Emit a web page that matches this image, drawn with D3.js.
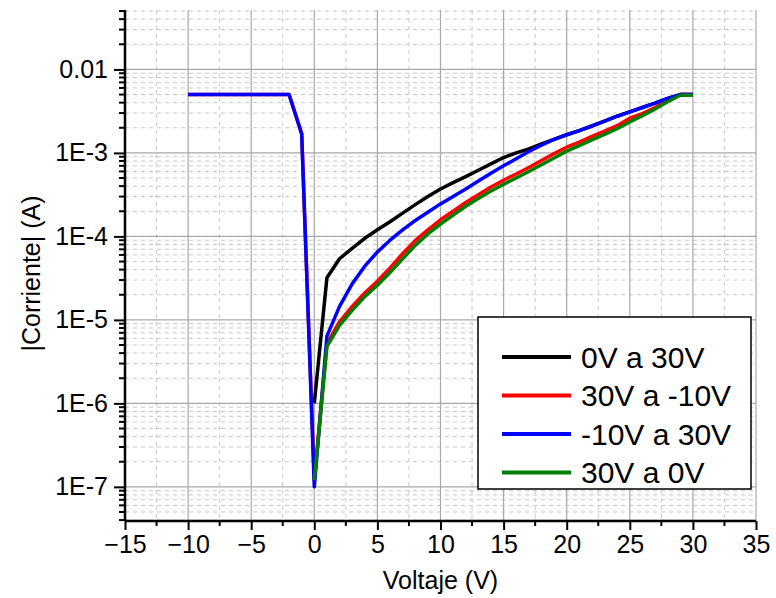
<!DOCTYPE html>
<html>
<head>
<meta charset="utf-8">
<script src="https://cdn.jsdelivr.net/npm/d3@7"></script>
<style>
  body { margin: 0; background: #fff; }
  svg { font-family: "Liberation Sans", Arial, sans-serif; }
</style>
</head>
<body>
<div id="chart"></div>
<script>
// voltage steps (V) and measured |I| (A) for each sweep
const voltsUp = d3.range(0, 31);
const voltsNeg = d3.range(-10, 31);
const voltsDownNeg = d3.range(30, -11, -1);
const voltsDown = d3.range(30, -1, -1);

const current0to30 = [1e-6, 3.2e-5, 5.4e-5, 7.2e-5, 9.5e-5, 1.2e-4, 1.5e-4, 1.9e-4, 2.4e-4, 3.0e-4,
  3.7e-4, 4.4e-4, 5.2e-4, 6.2e-4, 7.4e-4, 8.8e-4, 1.0e-3, 1.12e-3, 1.28e-3, 1.45e-3,
  1.65e-3, 1.85e-3, 2.1e-3, 2.4e-3, 2.75e-3, 3.1e-3, 3.5e-3, 3.95e-3, 4.5e-3, 5e-3, 5e-3];

const currentNeg10to30 = [5e-3, 5e-3, 5e-3, 5e-3, 5e-3, 5e-3, 5e-3, 5e-3, 5e-3, 1.7e-3,
  1e-7, 6.4e-6, 1.45e-5, 2.7e-5, 4.4e-5, 6.5e-5, 9.0e-5, 1.2e-4, 1.55e-4, 1.95e-4,
  2.45e-4, 3.0e-4, 3.7e-4, 4.6e-4, 5.7e-4, 7.0e-4, 8.5e-4, 1.04e-3, 1.24e-3, 1.45e-3,
  1.65e-3, 1.85e-3, 2.1e-3, 2.4e-3, 2.75e-3, 3.1e-3, 3.5e-3, 3.95e-3, 4.5e-3, 5e-3, 5e-3];

const current30toNeg10 = [5e-3, 5e-3, 4.25e-3, 3.5e-3, 2.95e-3, 2.6e-3, 2.12e-3, 1.82e-3, 1.58e-3, 1.35e-3,
  1.17e-3, 9.8e-4, 8.1e-4, 6.7e-4, 5.6e-4, 4.7e-4, 3.9e-4, 3.15e-4, 2.55e-4, 2.0e-4,
  1.58e-4, 1.2e-4, 8.9e-5, 6.2e-5, 4.2e-5, 2.9e-5, 2.1e-5, 1.45e-5, 9.5e-6, 5.2e-6,
  1.2e-7, 1.7e-3, 5e-3, 5e-3, 5e-3, 5e-3, 5e-3, 5e-3, 5e-3, 5e-3, 5e-3];

const current30to0 = [4.9e-3, 4.9e-3, 4.1e-3, 3.35e-3, 2.8e-3, 2.35e-3, 1.95e-3, 1.67e-3, 1.43e-3, 1.22e-3,
  1.05e-3, 8.7e-4, 7.2e-4, 6.0e-4, 5.0e-4, 4.2e-4, 3.5e-4, 2.85e-4, 2.3e-4, 1.8e-4,
  1.4e-4, 1.07e-4, 7.8e-5, 5.4e-5, 3.7e-5, 2.6e-5, 1.9e-5, 1.3e-5, 8.6e-6, 4.8e-6, 1.2e-7];

const seriesNames = ["0V a 30V", "30V a -10V", "-10V a 30V", "30V a 0V"];
const seriesColours = ["#000000", "#ff0000", "#0000ff", "#007f00"];

const xTicks = [-15, -10, -5, 0, 5, 10, 15, 20, 25, 30, 35];
const yTicks = [1e-7, 1e-6, 1e-5, 1e-4, 1e-3, 1e-2];
const yTickLabels = ["1E-7", "1E-6", "1E-5", "1E-4", "1E-3", "0.01"];

const series = [
  { name: seriesNames[0], colour: seriesColours[0], points: voltsUp.map((v, i) => [v, current0to30[i]]) },
  { name: seriesNames[1], colour: seriesColours[1], points: voltsDownNeg.map((v, i) => [v, current30toNeg10[i]]) },
  { name: seriesNames[2], colour: seriesColours[2], points: voltsNeg.map((v, i) => [v, currentNeg10to30[i]]) },
  { name: seriesNames[3], colour: seriesColours[3], points: voltsDown.map((v, i) => [v, current30to0[i]]) }
];

const width = 776, height = 598;
const margin = { top: 10, right: 20, bottom: 77, left: 125 };

const x = d3.scaleLinear().domain([-15, 35]).range([margin.left, width - margin.right]);
const y = d3.scaleLog().domain([3.9e-8, 0.0515]).range([height - margin.bottom, margin.top]);

const svg = d3.select("#chart").append("svg")
  .attr("width", width)
  .attr("height", height);

// minor grid
const minorX = d3.range(-12.5, 35, 5);
const minorY = [];
for (let e = -8; e <= -2; e++) {
  for (let m = 2; m <= 9; m++) {
    const v = m * Math.pow(10, e);
    if (v > y.domain()[0] && v < y.domain()[1]) minorY.push(v);
  }
}

const grid = svg.append("g");
grid.selectAll(".gx-minor").data(minorX).enter().append("line")
  .attr("x1", d => x(d)).attr("x2", d => x(d))
  .attr("y1", margin.top).attr("y2", height - margin.bottom)
  .attr("stroke", "#c8c8c8").attr("stroke-dasharray", "4,4");
grid.selectAll(".gy-minor").data(minorY).enter().append("line")
  .attr("x1", margin.left).attr("x2", width - margin.right)
  .attr("y1", d => y(d)).attr("y2", d => y(d))
  .attr("stroke", "#c8c8c8").attr("stroke-dasharray", "4,4");
grid.selectAll(".gx").data(xTicks).enter().append("line")
  .attr("x1", d => x(d)).attr("x2", d => x(d))
  .attr("y1", margin.top).attr("y2", height - margin.bottom)
  .attr("stroke", "#a8a8a8").attr("stroke-width", 1.2);
grid.selectAll(".gy").data(yTicks).enter().append("line")
  .attr("x1", margin.left).attr("x2", width - margin.right)
  .attr("y1", d => y(d)).attr("y2", d => y(d))
  .attr("stroke", "#a8a8a8").attr("stroke-width", 1.2);

// curves
const line = d3.line().x(d => x(d[0])).y(d => y(d[1]));

svg.append("g").selectAll("path").data(series).enter().append("path")
  .attr("fill", "none")
  .attr("stroke", d => d.colour)
  .attr("stroke-width", 3.5)
  .attr("stroke-linejoin", "round")
  .attr("d", d => line(d.points));

// axes
const xAxis = svg.append("g").attr("transform", `translate(0,${height - margin.bottom})`);
xAxis.call(d3.axisBottom(x).tickValues(xTicks).tickSize(9).tickPadding(5).tickFormat(d3.format("d")));
xAxis.append("g").selectAll("line").data(minorX).enter().append("line")
  .attr("x1", d => x(d)).attr("x2", d => x(d)).attr("y1", 0).attr("y2", 5)
  .attr("stroke", "#000").attr("stroke-width", 2);

const yAxis = svg.append("g").attr("transform", `translate(${margin.left},0)`);
yAxis.call(d3.axisLeft(y).tickValues(yTicks).tickSize(11).tickPadding(6)
  .tickFormat((d, i) => yTickLabels[i]));
yAxis.append("g").selectAll("line").data(minorY).enter().append("line")
  .attr("x1", -6).attr("x2", 0).attr("y1", d => y(d)).attr("y2", d => y(d))
  .attr("stroke", "#000").attr("stroke-width", 2);

svg.selectAll(".domain").attr("stroke", "#000").attr("stroke-width", 2.5);
xAxis.select(".domain").attr("d", `M${x(-15)},0H${x(35)}`);
yAxis.select(".domain").attr("d", `M0,${margin.top}V${height - margin.bottom}`);
svg.selectAll(".tick line").attr("stroke", "#000").attr("stroke-width", 2);
svg.selectAll(".tick text").attr("font-size", 25).attr("fill", "#000")
  .attr("font-family", "'Liberation Sans', Arial, sans-serif");

// axis titles
svg.append("text")
  .attr("x", (x(-15) + x(35)) / 2).attr("y", 589)
  .attr("text-anchor", "middle").attr("font-size", 25)
  .text("Voltaje (V)");
svg.append("text")
  .attr("transform", `translate(40,${(margin.top + height - margin.bottom) / 2 + 8}) rotate(-90)`)
  .attr("text-anchor", "middle").attr("font-size", 25)
  .text("|Corriente| (A)");

// legend
const legend = svg.append("g").attr("transform", "translate(478,317)");
legend.append("rect").attr("width", 273).attr("height", 172)
  .attr("fill", "#fff").attr("stroke", "#000").attr("stroke-width", 1.5);
const rows = legend.selectAll(".row").data(series).enter().append("g")
  .attr("transform", (d, i) => `translate(0,${40 + i * 38.5})`);
rows.append("line").attr("x1", 24).attr("x2", 93)
  .attr("stroke", d => d.colour).attr("stroke-width", 4);
rows.append("text").attr("x", 103).attr("y", 10.5)
  .attr("font-size", 30).text(d => d.name);
</script>
</body>
</html>
